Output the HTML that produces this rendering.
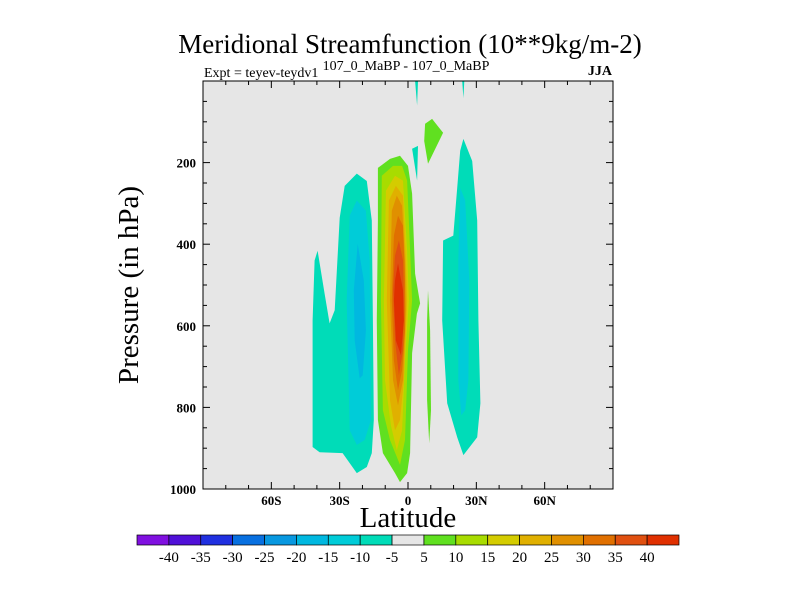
<!DOCTYPE html>
<html><head><meta charset="utf-8"><style>
html,body{margin:0;padding:0;background:#fff;}
svg{display:block;font-family:"Liberation Serif",serif;}
</style></head><body>
<svg id="chart" width="800" height="600" viewBox="0 0 800 600">
<text x="410" y="53" font-size="27" text-anchor="middle">Meridional Streamfunction (10**9kg/m-2)</text>
<text x="204" y="77" font-size="14">Expt = teyev-teydv1</text>
<text x="406" y="70" font-size="14" text-anchor="middle">107_0_MaBP - 107_0_MaBP</text>
<text x="612" y="75" font-size="14" font-weight="bold" text-anchor="end">JJA</text>
<rect x="203" y="81" width="410" height="408" fill="#e6e6e6"/>
<g id="fills"></g>
<g id="axes"></g>
<rect x="203" y="81" width="410" height="408" fill="none" stroke="#000" stroke-width="1"/>
<text x="408" y="527" font-size="29" text-anchor="middle">Latitude</text>
<text transform="translate(138,285) rotate(-90)" font-size="29" text-anchor="middle">Pressure (in hPa)</text>
<g id="cbar"></g>
</svg>
<script>
const latMin=-90, latMax=90, pMin=0, pMax=1000;
const xTicks=[-60,-30,0,30,60];
const xTickLabels=["60S","30S","0","30N","60N"];
const yTicks=[200,400,600,800,1000];
const cbLevels=[-40,-35,-30,-25,-20,-15,-10,-5,5,10,15,20,25,30,35,40];
const cbColors=["#8010e0","#5010d8","#2030e0","#0870e0","#0898e0","#00b8e0","#00ccd8","#00dcb8","#e6e6e6","#60e020","#a8dc00","#d4cc00","#e0b000","#e09000","#e07000","#e05010","#e03000"];
// contour regions: level value, [lat, pressure] outline points
const regionLevels=[-5,-10,-15,-5,-10,5,10,15,20,25,30,35,40,5,-5,5,-5,-5];
const regionShapes=[
 [[-39.7,416],[-36.6,521],[-34.4,594],[-32.2,562],[-30,335],[-27.8,257],[-22.5,227],[-18.1,245],[-15.9,342],[-15.4,587],[-15,831],[-15.9,912],[-18.1,946],[-22.5,961],[-28.7,912],[-38.8,910],[-41.9,897],[-41.9,587],[-41,440]],
 [[-25.6,330],[-22.5,293],[-18.5,318],[-16.8,440],[-16.3,831],[-19,880],[-22.5,892],[-25.6,856],[-26.9,538]],
 [[-22.1,399],[-19.4,489],[-18.5,611],[-19.9,721],[-21.2,729],[-23.4,636],[-23.8,513]],
 [[24.3,142],[28.2,196],[30.4,342],[30.9,587],[31.8,790],[30.4,873],[24.3,917],[21.6,873],[17.2,790],[15,587],[15.4,391],[19.9,379],[21.6,262],[22.9,171]],
 [[22.9,262],[25.1,293],[26.9,489],[26.5,733],[25.1,807],[23.4,819],[22.1,733],[22.1,440]],
 [[-13.2,213],[-7.9,191],[-3.5,183],[0,208],[1.8,276],[3.1,472],[5.3,545],[3.9,570],[1.8,667],[0.9,912],[-0.4,961],[-3.5,983],[-5.7,961],[-11,912],[-13.2,831],[-13.7,587],[-13.2,342]],
 [[-11.5,232],[-6.6,208],[-2.6,208],[-0.4,244],[0.9,416],[1.8,538],[0,660],[-1.3,880],[-3.5,941],[-7.9,880],[-11,807],[-11.9,538]],
 [[-9.7,269],[-5.7,232],[-2.2,244],[-0.4,416],[0.4,538],[-1.3,685],[-2.6,856],[-4.9,905],[-7.5,844],[-10.1,733],[-10.6,538]],
 [[-8.4,293],[-5.3,257],[-2.2,281],[-0.9,440],[-0.4,538],[-1.8,733],[-3.5,831],[-5.7,856],[-7.9,782],[-9.3,538]],
 [[-7.1,318],[-4.9,281],[-2.6,306],[-1.3,440],[-0.9,562],[-2.2,733],[-4.4,795],[-6.6,733],[-7.9,538]],
 [[-6.2,379],[-4.4,330],[-2.2,355],[-1.3,489],[-1.3,611],[-2.6,709],[-4.4,758],[-6.2,685],[-7.1,538]],
 [[-5.7,428],[-4,391],[-2.2,440],[-1.8,538],[-2.2,660],[-4,721],[-5.7,636],[-6.6,513]],
 [[-5.7,489],[-4.4,447],[-2.2,513],[-1.8,587],[-3.1,672],[-5.3,636],[-6.2,538]],
 [[7.5,105],[10.6,93],[15.4,127],[8.8,203],[7.1,147]],
 [[1.8,166],[4.4,159],[4,244]],
 [[8.8,513],[9.7,611],[10.1,807],[9.3,888],[8.4,782],[8.4,587]],
 [[3.1,0],[4.4,0],[4,60]],
 [[23.8,0],[24.7,0],[24.3,42]]
];
const NS="http://www.w3.org/2000/svg";
const X0=203,X1=613,Y0=81,Y1=489;
function xs(lat){return X0+(lat-latMin)/(latMax-latMin)*(X1-X0);}
function ys(p){return Y0+(p-pMin)/(pMax-pMin)*(Y1-Y0);}
function colorFor(v){
  if(v<0){let i=0;while(i<cbLevels.length&&cbLevels[i]<v)i++;return cbColors[i];}
  let i=cbLevels.length;while(i>0&&cbLevels[i-1]>v)i--;return cbColors[i-1]||cbColors[i];
}
function lvlColor(v){
  // v is the contour level bounding the region
  const idx=cbLevels.indexOf(v);
  return v<0?cbColors[idx]:cbColors[idx+1];
}
const fills=document.getElementById('fills');
regionShapes.forEach((pts,i)=>{
  const pg=document.createElementNS(NS,'polygon');
  pg.setAttribute('points',pts.map(q=>xs(q[0]).toFixed(1)+','+ys(q[1]).toFixed(1)).join(' '));
  pg.setAttribute('fill',lvlColor(regionLevels[i]));
  
  
  fills.appendChild(pg);
});
const axes=document.getElementById('axes');
function line(x1,y1,x2,y2,name){
  const l=document.createElementNS(NS,'line');
  l.setAttribute('x1',x1);l.setAttribute('y1',y1);l.setAttribute('x2',x2);l.setAttribute('y2',y2);
  l.setAttribute('stroke','#000');l.setAttribute('stroke-width','1');
  
  
  axes.appendChild(l);
}
function text(x,y,s,anchor,name){
  const t=document.createElementNS(NS,'text');
  t.setAttribute('x',x);t.setAttribute('y',y);t.setAttribute('font-size','13');
  t.setAttribute('font-weight','bold');t.setAttribute('text-anchor',anchor);t.textContent=s;
  
  
  axes.appendChild(t);
}
for(let lat=-80;lat<=80;lat+=10){
  const major=xTicks.indexOf(lat)>=0, L=major?7:4, x=xs(lat);
  line(x,Y1,x,Y1-L,'x-tick');line(x,Y0,x,Y0+L,'x-tick');
}
xTicks.forEach((v,i)=>text(xs(v),505,xTickLabels[i],'middle','x-tick-label'));
for(let p=50;p<1000;p+=50){
  const major=p%200===0, L=major?7:4, y=ys(p);
  line(X0,y,X0+L,y,'y-tick');line(X1,y,X1-L,y,'y-tick');
}
yTicks.forEach(v=>text(X0-7,ys(v)+5,String(v),'end','y-tick-label'));
const cb=document.getElementById('cbar');
const cbX=137,cbW=542,cbY=535,cbH=10,bw=cbW/cbColors.length;
cbColors.forEach((c,i)=>{
  const r=document.createElementNS(NS,'rect');
  r.setAttribute('x',cbX+i*bw);r.setAttribute('y',cbY);r.setAttribute('width',bw);r.setAttribute('height',cbH);
  r.setAttribute('fill',c);r.setAttribute('stroke','#000');r.setAttribute('stroke-width','0.7');
  
  
  cb.appendChild(r);
});
cbLevels.forEach((v,i)=>{
  const t=document.createElementNS(NS,'text');
  t.setAttribute('x',cbX+(i+1)*bw);t.setAttribute('y',562);t.setAttribute('font-size','15');
  t.setAttribute('text-anchor','middle');t.textContent=String(v);
  
  
  cb.appendChild(t);
});
</script>
</body></html>
